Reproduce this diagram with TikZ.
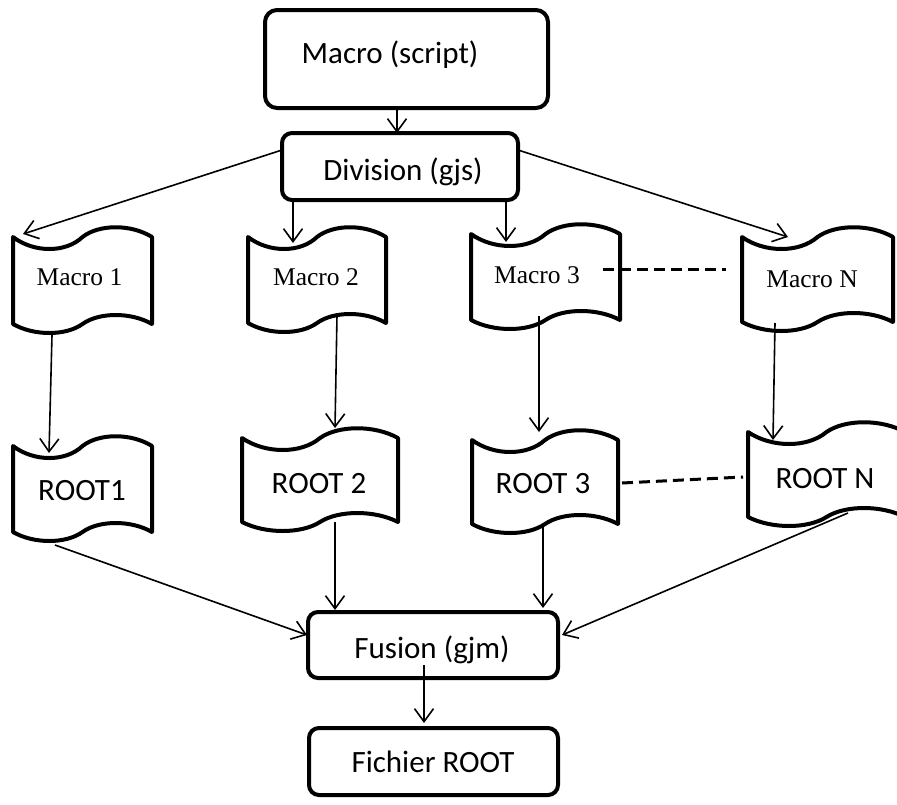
\documentclass[tikz,border=0pt]{standalone}
\usepackage{fontspec}
\usetikzlibrary{arrows.meta}
\newfontfamily\calfont{Carlito}
\newfontfamily\timesfont{Liberation Serif}
\newcommand\tapeshape[4]{%
  \draw[tapeline] (#1,#2) .. controls ({#1+0.15*(#3-#1)},{#2+16}) and ({#1+0.38*(#3-#1)},{#2+16}) .. ({#1+0.5*(#3-#1)},#2)
    .. controls ({#1+0.62*(#3-#1)},{#2-13}) and ({#1+0.85*(#3-#1)},{#2-13}) .. (#3,#2)
    -- (#3,#4) .. controls ({#3-0.15*(#3-#1)},{#4-12}) and ({#3-0.38*(#3-#1)},{#4-12}) .. ({#1+0.5*(#3-#1)},#4)
    .. controls ({#1+0.38*(#3-#1)},{#4+12}) and ({#1+0.15*(#3-#1)},{#4+12}) .. (#1,#4) -- cycle;}
\tikzset{
  rbox/.style={draw, line width=4pt, rounded corners=12pt, inner sep=0pt},
  tapeline/.style={line width=4pt, line join=round, line cap=round},
  ctext/.style={anchor=base, inner sep=0pt, font=\calfont\fontsize{31}{36}\selectfont},
  ttext/.style={anchor=base, inner sep=0pt, font=\timesfont\fontsize{25.5}{30}\selectfont},
  arr/.style={line width=1.6pt, -{Straight Barb[length=13pt,width=19pt]}},
  dline/.style={line width=3pt, dash pattern=on 11pt off 6pt},
}
\begin{document}
\begin{tikzpicture}[x=1pt,y=-1pt]
\useasboundingbox (0,0) rectangle (897,804);
\fill[white] (0,0) rectangle (897,804);
% boxes
\node[rbox, minimum width=283pt, minimum height=98pt] (script) at (406.5,59) {};
\node[ctext] (scriptlbl) at (390,63) {Macro (script)};
\node[rbox, rounded corners=10pt, minimum width=236pt, minimum height=67pt] (div) at (400,166.5) {};
\node[ctext] (divlbl) at (403,180) {Division (gjs)};
\node[rbox, rounded corners=10pt, minimum width=250pt, minimum height=66pt] (fus) at (433,645) {};
\node[ctext] (fuslbl) at (432,658) {Fusion (gjm)};
\node[rbox, rounded corners=10pt, minimum width=249pt, minimum height=67pt] (fich) at (433.5,761.5) {};
\node[ctext] (fichlbl) at (433,772) {Fichier ROOT};
% tapes
\tapeshape{13}{237}{152}{324}
\tapeshape{248}{237}{386}{323}
\tapeshape{471}{234}{620}{320}
\tapeshape{742}{237}{893}{322}
\tapeshape{13}{446}{152}{532}
\tapeshape{242}{438}{398}{522}
\tapeshape{472}{440}{618}{524}
\tapeshape{748}{432}{905}{517}
\node[ttext] (m1) at (79.5,285) {Macro 1};
\node[ttext] (m2) at (316,285) {Macro 2};
\node[ttext] (m3) at (537,283) {Macro 3};
\node[ttext] (mN) at (812,287) {Macro N};
\node[ctext] (r1) at (82,500) {ROOT1};
\node[ctext] (r2) at (319,493) {ROOT 2};
\node[ctext] (r3) at (543,493) {ROOT 3};
\node[ctext] (rN) at (825,488) {ROOT N};
% connector end points
\coordinate (s0) at (397,108); \coordinate (d0) at (397,133);
\coordinate (dL) at (282,150); \coordinate (m1in) at (23,234);
\coordinate (dB2) at (293,200); \coordinate (m2in) at (293,243);
\coordinate (dB3) at (506,200); \coordinate (m3in) at (506,242);
\coordinate (dR) at (518,150); \coordinate (mNin) at (788,237);
\coordinate (m1out) at (52,335); \coordinate (r1in) at (49,453);
\coordinate (m2out) at (337,315); \coordinate (r2in) at (335,428);
\coordinate (m3out) at (539,316); \coordinate (r3in) at (539,432);
\coordinate (mNout) at (775,323); \coordinate (rNin) at (773,440);
\coordinate (r1out) at (55,545); \coordinate (f1) at (307,635);
\coordinate (r2out) at (335,522); \coordinate (f2) at (335,610);
\coordinate (r3out) at (543,527); \coordinate (f3) at (543,608);
\coordinate (rNout) at (848,513); \coordinate (f4) at (562,635);
\coordinate (fout) at (424,665); \coordinate (fichin) at (424,723);
\coordinate (m3d) at (603,269); \coordinate (mNd) at (726,269);
\coordinate (r3d) at (622,483); \coordinate (rNd) at (743,477);
% connectors
\draw[arr] (s0) -- (d0);
\draw[arr] (dL) -- (m1in);
\draw[arr] (dB2) -- (m2in);
\draw[arr] (dB3) -- (m3in);
\draw[arr] (dR) -- (mNin);
\draw[arr] (m1out) -- (r1in);
\draw[arr] (m2out) -- (r2in);
\draw[arr] (m3out) -- (r3in);
\draw[arr] (mNout) -- (rNin);
\draw[arr] (r1out) -- (f1);
\draw[arr] (r2out) -- (f2);
\draw[arr] (r3out) -- (f3);
\draw[arr] (rNout) -- (f4);
\draw[arr] (fout) -- (fichin);
\draw[dline] (m3d) -- (mNd);
\draw[dline] (r3d) -- (rNd);
\end{tikzpicture}
\end{document}
